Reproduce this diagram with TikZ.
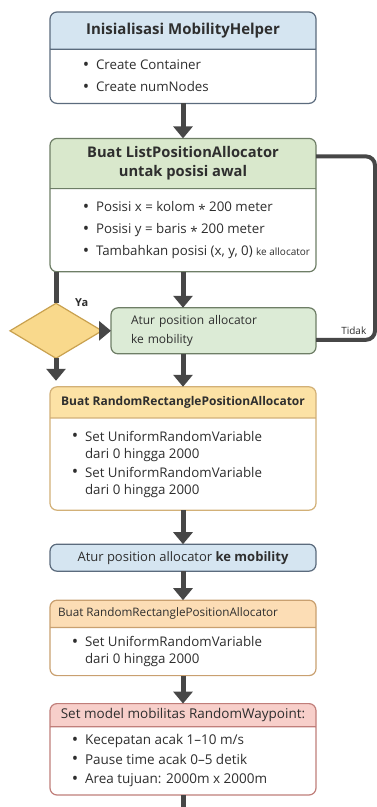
\documentclass[tikz,border=0pt]{standalone}
\usepackage{fontspec}
\setmainfont{Open Sans}
\usetikzlibrary{shapes.geometric, shapes.multipart, arrows.meta, positioning}
\definecolor{hblue}{HTML}{D5E5F1}
\definecolor{lblue}{HTML}{5B6B7D}
\definecolor{hgreen}{HTML}{D9E8CC}
\definecolor{lgreen}{HTML}{6E7E66}
\definecolor{fgreen}{HTML}{DCEBD6}
\definecolor{hyellow}{HTML}{FCE2A5}
\definecolor{lyellow}{HTML}{D2B077}
\definecolor{horange}{HTML}{FCDDB5}
\definecolor{lorange}{HTML}{C9A070}
\definecolor{hred}{HTML}{F7CFCA}
\definecolor{lred}{HTML}{C07E7A}
\definecolor{fdiam}{HTML}{F9D98C}
\definecolor{ldiam}{HTML}{C9A14F}
\definecolor{darrow}{HTML}{474747}
\definecolor{dtext}{HTML}{2E2E2E}
\newcommand{\boxpart}[2]{\parbox[c][#1][c]{254pt}{#2}}
\newcommand{\bul}{\makebox[13pt][l]{\raisebox{-0.5pt}{\fontsize{17}{10}\selectfont\textbullet}}}
\newcommand{\tms}{\raisebox{-2.5pt}{*}}
\tikzstyle{twopart} = [rectangle split, rectangle split parts=2, rounded corners=7pt, inner xsep=6pt, inner ysep=0pt, outer sep=0pt, line width=1.2pt, text=dtext, font=\fontsize{13.3}{19}\selectfont]
\tikzstyle{process} = [rectangle, rounded corners=7pt, line width=1.2pt, minimum width=266pt, inner sep=0pt, outer sep=0pt, text=dtext, font=\fontsize{13}{19}\selectfont]
\tikzstyle{decision} = [diamond, minimum width=92pt, minimum height=55pt, inner sep=0pt, outer sep=0pt, line width=1.2pt, draw=ldiam, fill=fdiam]
\tikzstyle{arrow} = [line width=5pt, draw=darrow, -{Triangle[width=19pt,length=12pt]}]
\tikzstyle{vline} = [line width=5pt, draw=darrow]
\tikzstyle{loopline} = [line width=4pt, draw=darrow, rounded corners=9pt]
\begin{document}
\begin{tikzpicture}[x=1pt, y=-1pt]
\useasboundingbox (0,0) rectangle (377,807);
\fill [white] (0,0) rectangle (377,807);
\node (init) [twopart, anchor=north, draw=lblue, rectangle split part fill={hblue,white}] at (183,12)
  {\boxpart{36pt}{\centering\fontsize{15}{19}\selectfont\bfseries Inisialisasi MobilityHelper}
   \nodepart{two}\boxpart{53pt}{\leftskip=27pt \fontsize{13.3}{22}\selectfont \bul Create Container\\ \bul Create numNodes}};
\node (list) [twopart, below=35pt of init, draw=lgreen, rectangle split part fill={hgreen,white}]
  {\boxpart{49pt}{\centering\fontsize{14.7}{19}\selectfont\bfseries Buat ListPositionAllocator\\ untak posisi awal}
   \nodepart{two}\boxpart{82pt}{\leftskip=27pt \fontsize{13.3}{22}\selectfont \bul Posisi x = kolom \tms{} 200 meter\\ \bul Posisi y = baris \tms{} 200 meter\\ \bul Tambahkan posisi (x, y, 0) {\fontsize{10}{22}\selectfont ke allocator}}};
\node (atur1) [process, below=36pt of list, xshift=30.5pt, minimum width=205pt, minimum height=46pt, text width=165pt, inner xsep=20pt, align=left, draw=lgreen, fill=fgreen, font=\fontsize{12}{19}\selectfont]
  {Atur position allocator\\ ke mobility};
\node (dec1) [decision, left=9pt of atur1] {};
\node (ya) [right=19pt of dec1.north, yshift=1pt, inner sep=0pt, text=dtext, font=\fontsize{11}{13}\selectfont\bfseries] {Ya};
\node (rand1) [twopart, below=115pt of list, draw=lyellow, rectangle split part fill={hyellow,white}]
  {\boxpart{30pt}{\centering\fontsize{12}{19}\selectfont\bfseries Buat RandomRectanglePositionAllocator}
   \nodepart{two}\boxpart{91pt}{\leftskip=16pt \bul Set UniformRandomVariable\\[-2pt] \hspace*{13pt}dari 0 hingga 2000\\ \bul Set UniformRandomVariable\\[-2pt] \hspace*{13pt}dari 0 hingga 2000}};
\node (atur2) [process, below=34pt of rand1, minimum height=27pt, draw=lblue, fill=hblue]
  {Atur position allocator \textbf{ke mobility}};
\node (rand2) [twopart, below=29pt of atur2, draw=lorange, rectangle split part fill={horange,white}]
  {\boxpart{26pt}{\fontsize{11.7}{19}\selectfont\hspace*{2pt}Buat RandomRectanglePositionAllocator}
   \nodepart{two}\boxpart{47pt}{\leftskip=16pt \bul Set UniformRandomVariable\\[-2pt] \hspace*{13pt}dari 0 hingga 2000}};
\node (waypoint) [twopart, below=28pt of rand2, draw=lred, rectangle split part fill={hred,white}]
  {\boxpart{22pt}{\centering\fontsize{13.5}{19}\selectfont Set model mobilitas RandomWaypoint:}
   \nodepart{two}\boxpart{67pt}{\leftskip=16pt \fontsize{13.5}{19.5}\selectfont \bul Kecepatan acak 1--10 m/s\\ \bul Pause time acak 0--5 detik\\ \bul Area tujuan: 2000m x 2000m}};
\coordinate (end) at ([yshift=-24pt]waypoint.south);
\draw [arrow] (init.south) -- (list.north);
\draw [arrow] (list.south) -- (list.south |- atur1.north);
\draw [vline] (dec1.north |- list.south) -- (dec1.north);
\draw [arrow] (dec1.east) -- (atur1.west);
\draw [arrow, shorten >=6pt] (dec1.south) -- (dec1.south |- rand1.north);
\draw [arrow] (list.south |- atur1.south) -- (list.south |- rand1.north);
\draw [loopline] ([yshift=-18pt]list.north east) -- ++(59pt,0) |- node[pos=0.68, above, text=dtext, font=\fontsize{10}{12}\selectfont] {Tidak} ([yshift=-9pt]atur1.east);
\draw [arrow] (rand1.south) -- (atur2.north);
\draw [arrow] (atur2.south) -- (rand2.north);
\draw [arrow] (rand2.south) -- (waypoint.north);
\draw [arrow] (waypoint.south) -- (end);
\end{tikzpicture}
\end{document}
